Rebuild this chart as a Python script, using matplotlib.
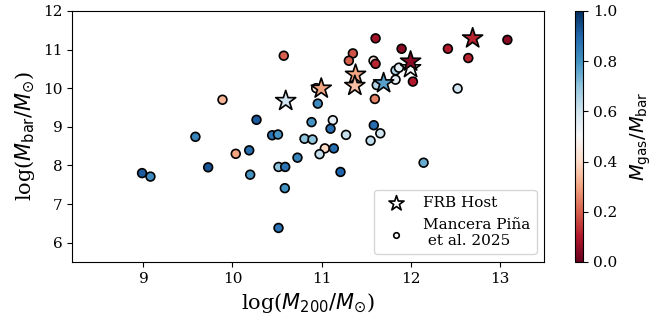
import matplotlib
matplotlib.use("Agg")
import matplotlib.pyplot as plt
import numpy as np

plt.rcParams['font.family'] = 'serif'
plt.rcParams['mathtext.fontset'] = 'dejavusans'

# Mancera Pina et al. 2025 sample
m200 = [8.985, 9.079, 9.584, 9.727, 10.037, 10.188, 10.199, 9.888, 10.270, 10.517,
        10.446, 10.511, 10.809, 10.899, 10.517, 10.592, 10.730, 10.588, 10.576, 10.888,
        11.127, 11.101, 11.275, 11.587, 11.660, 11.551, 11.037, 11.138, 10.978, 11.213,
        12.146, 10.958, 10.940, 11.599, 11.607, 11.352, 11.307, 11.899, 11.584, 11.607,
        11.620, 11.831, 11.869, 11.831, 12.026, 12.419, 13.087, 12.648, 12.528]
mbar = [7.80, 7.71, 8.74, 7.95, 8.30, 8.39, 7.76, 9.70, 9.18, 6.38,
        8.78, 8.80, 8.69, 8.67, 7.96, 7.96, 8.20, 7.41, 10.84, 9.12,
        9.17, 8.95, 8.79, 9.04, 8.83, 8.64, 8.44, 8.44, 8.29, 7.83,
        8.07, 9.60, 10.00, 9.72, 11.29, 10.90, 10.71, 11.02, 10.71, 10.63,
        10.08, 10.46, 10.53, 10.22, 10.17, 11.02, 11.25, 10.78, 9.99]
fgas = [0.92, 0.82, 0.83, 0.93, 0.30, 0.88, 0.80, 0.33, 0.92, 0.87,
        0.87, 0.80, 0.70, 0.70, 0.70, 0.87, 0.83, 0.80, 0.20, 0.80,
        0.55, 0.88, 0.62, 0.88, 0.60, 0.63, 0.40, 0.88, 0.62, 0.90,
        0.75, 0.82, 0.45, 0.25, 0.08, 0.18, 0.20, 0.05, 0.43, 0.12,
        0.65, 0.65, 0.55, 0.55, 0.10, 0.10, 0.05, 0.12, 0.60]

# FRB hosts
frb_m200 = [10.598, 10.997, 11.382, 11.374, 11.697, 12.0, 12.0, 12.697]
frb_mbar = [9.67, 9.99, 10.35, 10.06, 10.13, 10.52, 10.69, 11.29]
frb_fgas = [0.60, 0.30, 0.30, 0.35, 0.77, 0.50, 0.05, 0.12]

fig = plt.figure(figsize=(6.62, 3.21), dpi=100)
ax = fig.add_axes([0.109, 0.184, 0.713, 0.782])

sc = ax.scatter(m200, mbar, c=fgas, cmap='RdBu', vmin=0, vmax=1, s=40,
                edgecolors='k', linewidths=1.2, zorder=2)
ax.scatter(frb_m200, frb_mbar, c=frb_fgas, cmap='RdBu', vmin=0, vmax=1, s=230,
           marker='*', edgecolors='k', linewidths=1.2, zorder=3)

ax.set_xlim(8.2, 13.5)
ax.set_ylim(5.5, 12)
ax.set_xticks([9, 10, 11, 12, 13])
ax.set_yticks([6, 7, 8, 9, 10, 11, 12])
ax.tick_params(labelsize=11)
ax.set_xlabel(r'log($M_{200}/M_{\odot}$)', fontsize=15)
ax.set_ylabel(r'log($M_{\rm bar}/M_{\odot}$)', fontsize=15)

# legend handles
h1 = ax.scatter([], [], marker='*', s=130, facecolors='white', edgecolors='k', linewidths=1.2)
h2 = ax.scatter([], [], marker='o', s=16, facecolors='white', edgecolors='k', linewidths=1.2)
ax.legend([h1, h2], ['FRB Host', 'Mancera Piña\n et al. 2025'], loc='lower right',
          fontsize=11)

cax = fig.add_axes([0.868, 0.184, 0.013, 0.782])
cb = fig.colorbar(sc, cax=cax)
cb.set_ticks([0, 0.2, 0.4, 0.6, 0.8, 1.0])
cb.ax.tick_params(labelsize=11)
cb.set_label(r'$M_{\rm gas}/M_{\rm bar}$', fontsize=14, labelpad=8)

fig.savefig('out.png', dpi=100)
